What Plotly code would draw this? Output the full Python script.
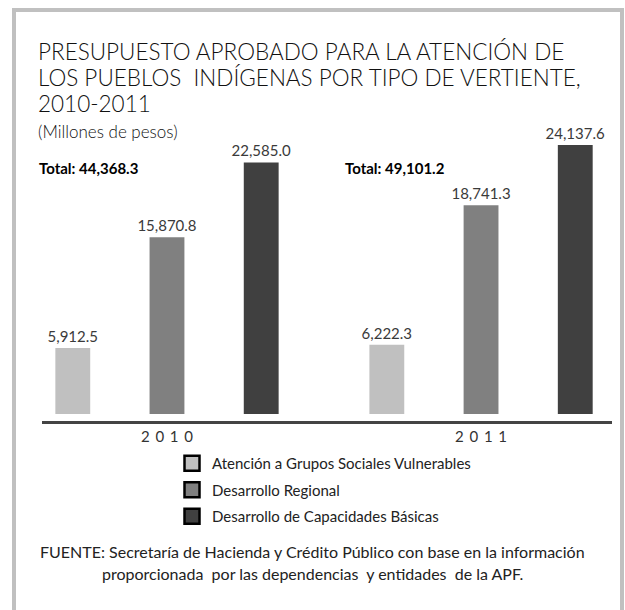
import plotly.graph_objects as go

# ---- data ----
years = ["2010", "2011"]
year_labels = ["2\u00a0\u20090\u00a0\u20091\u00a0\u20090", "2\u00a0\u20090\u00a0\u20091\u00a0\u20091"]
series_names = ["Atención a Grupos Sociales Vulnerables", "Desarrollo Regional",
                "Desarrollo de Capacidades Básicas"]
grupos_vulnerables = [5912.5, 6222.3]
desarrollo_regional = [15870.8, 18741.3]
capacidades_basicas = [22585.0, 24137.6]
totals = [44368.3, 49101.2]
colors = ["#c0c0c0", "#808080", "#404040"]

# ---- layout helpers (pixel -> paper) ----
W, H = 625, 610
L, R, T, B = 42, 13, 100, 189
PW, PH = W - L - R, H - T - B


def px(xp):
    return (xp - L) / PW


def py(yp):
    return (H - B - yp) / PH


FONT = "Lato"
fig = go.Figure()
series = [grupos_vulnerables, desarrollo_regional, capacidades_basicas]
for name, vals, col in zip(series_names, series, colors):
    fig.add_trace(go.Bar(
        x=years, y=vals, name=name, showlegend=False,
        marker=dict(color=col, line=dict(width=0)),
        text=[f"{v:,.1f}" for v in vals], textposition="outside",
        constraintext="none",
        textfont=dict(family=FONT, size=15, color="#3a3a3a"),
        cliponaxis=False,
    ))
# legend entries
for i, (name, col) in enumerate(zip(series_names, colors)):
    fig.add_trace(go.Scatter(
        x=[None], y=[None], name=name, legendgroup=f"g{i}", mode="markers",
        marker=dict(color=col, symbol="square", size=15, line=dict(width=2.5, color="#000000")),
    ))

annotations = []
title_lines = ["PRESUPUESTO APROBADO PARA LA ATENCIÓN DE",
               "LOS PUEBLOS  INDÍGENAS POR TIPO DE VERTIENTE,",
               "2010-2011"]
for i, line in enumerate(title_lines):
    annotations.append(dict(text=line, xref="paper", yref="paper",
                            x=px(36), y=py(51 + 26 * i), xanchor="left", yanchor="middle",
                            showarrow=False,
                            font=dict(family=FONT, size=22.5, weight=300, color="#111111")))
annotations.append(dict(text="(Millones de pesos)", xref="paper", yref="paper",
                        x=px(36), y=py(131), xanchor="left", yanchor="middle",
                        showarrow=False, font=dict(family=FONT, size=17, weight=300, color="#111111")))
for xp, tot in zip([37, 343], totals):
    annotations.append(dict(text=f"<b>Total: {tot:,.1f}</b>", xref="paper", yref="paper",
                            x=px(xp), y=py(168), xanchor="left", yanchor="middle",
                            showarrow=False, font=dict(family=FONT, size=15, color="#000000")))
foot = ["FUENTE: Secretaría de Hacienda y Crédito Público con base en la información",
        "proporcionada  por las dependencias  y entidades  de la APF."]
for i, line in enumerate(foot):
    annotations.append(dict(text=line, xref="paper", yref="paper",
                            x=px(312), y=py(551 + 22 * i), xanchor="center", yanchor="middle",
                            showarrow=False, font=dict(family=FONT, size=16, color="#222222")))

fig.update_layout(
    width=W, height=H, margin=dict(l=L, r=R, t=T, b=B),
    paper_bgcolor="white", plot_bgcolor="white",
    barmode="group", bargap=0.1, bargroupgap=0.63,
    font=dict(family=FONT, color="#333333"),
    xaxis=dict(type="category", range=[-0.398, 1.417], tickvals=years, ticktext=year_labels,
               showline=True, linecolor="#444444", linewidth=3, ticks="",
               showgrid=False, zeroline=False, fixedrange=True,
               tickfont=dict(family=FONT, size=15, color="#333333")),
    yaxis=dict(range=[-630, 28185], visible=False, fixedrange=True),
    legend=dict(x=px(172), y=py(447), xanchor="left", yanchor="top",
                orientation="v", traceorder="grouped", tracegroupgap=4,
                font=dict(family=FONT, size=15, color="#222222"),
                bgcolor="rgba(0,0,0,0)"),
    annotations=annotations,
    shapes=[dict(type="rect", xref="paper", yref="paper",
                 x0=px(14), x1=px(622), y0=py(640), y1=py(10),
                 line=dict(color="#c0c0c0", width=4), fillcolor="rgba(0,0,0,0)",
                 layer="below")],
)

fig.write_html("out.html")
